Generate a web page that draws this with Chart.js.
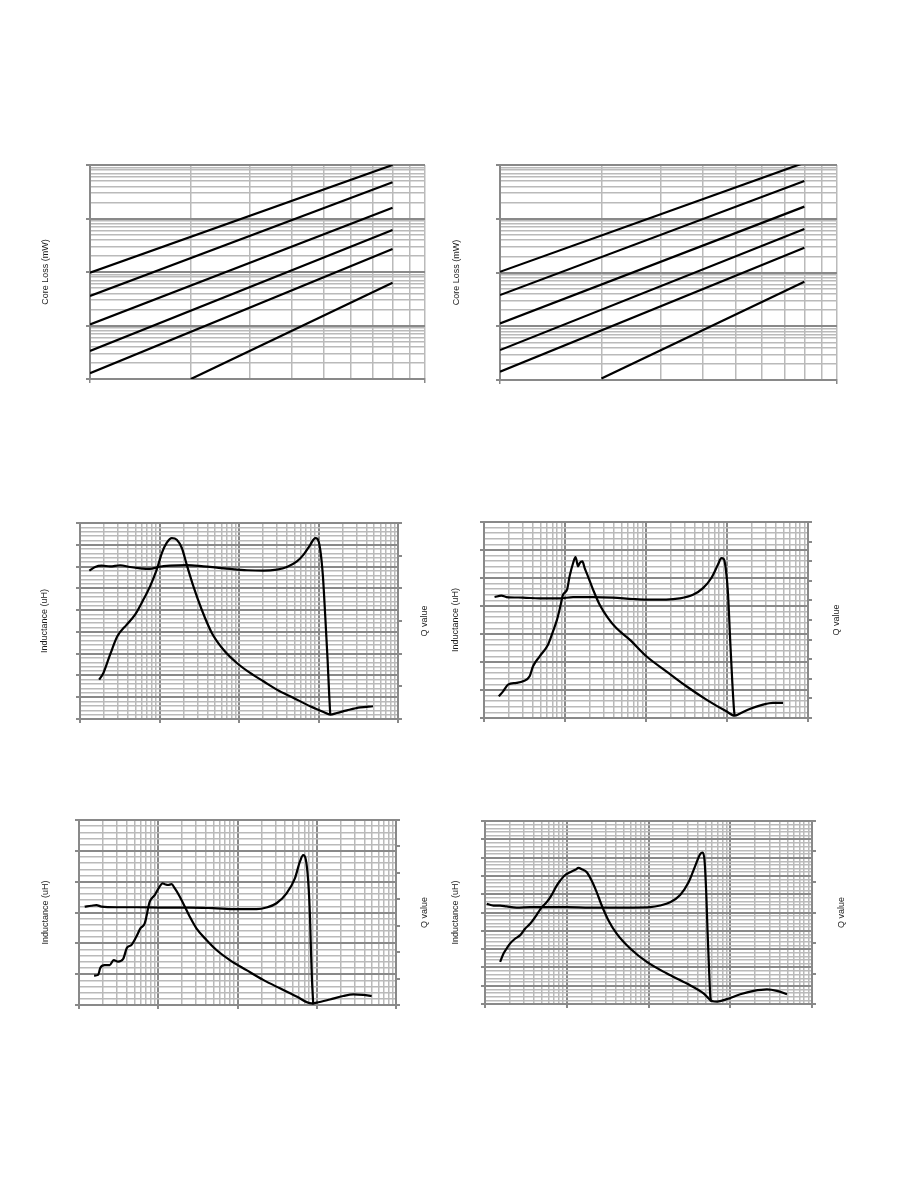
<!DOCTYPE html>
<html>
<head>
<meta charset="utf-8">
<script src="https://cdn.jsdelivr.net/npm/chart.js@4"></script>
<style>
  body { margin: 0; background: #fff; width: 918px; height: 1188px; position: relative; overflow: hidden; }
  .box { position: absolute; }
</style>
</head>
<body>
<script>
// ---- core loss charts (log-log), two points per straight line ----
const lossX = [10, 80];
const lossXLow = [20, 80];
const lossLeft = [[97, 10000], [35.6, 4750], [10.5, 1590], [3.34, 610], [1.28, 269], [1.0, 63]];
const lossRight = [[103, 11000], [38, 5040], [11.3, 1680], [3.6, 645], [1.43, 290], [1.07, 67.5]];

// ---- inductance / Q charts ----
const c3LFreq = [1.31,1.55,1.88,2.39,3.19,4.26,5.70,7.61,9.69,13.6,22.0,35.7,52.6,77.4,126,203,299,400,535,649,787,910,973,1052,1137,1216,1301,1366,1406];
const c3L = [68.1,69.8,70.4,70.1,70.6,69.8,69.2,68.9,69.8,70.4,70.7,70.1,69.5,68.9,68.3,68.1,68.6,69.8,72.4,75.5,80.0,83.1,82.7,77.8,65.5,47.1,27.2,10.4,2.0];
const c3QFreq = [1.74,1.97,2.39,2.95,3.87,4.93,6.27,7.61,9.23,10.7,12.3,14.3,16.5,19.1,22.0,26.7,34.0,45.5,63.8,94.0,138,203,299,486,787,1159,1406,1706,2280,3357,4842];
const c3Q = [24.1,28.2,39.4,50.6,57.8,63.9,73.1,81.2,91.4,101.6,107.8,110.8,109.8,104.7,94.5,81.2,66.9,52.7,42.4,34.3,28.2,23.1,18.0,12.9,7.8,4.3,2.7,3.7,5.3,7.1,7.8];

const c4LFreq = [1.35,1.64,1.89,3.03,4.87,8.60,12.6,22.2,39.1,69.1,101,178,260,380,505,641,774,851,910,963,1028,1099,1164,1220,1244];
const c4L = [43.2,43.7,43.2,43.0,42.7,42.7,43.2,43.2,43.0,42.5,42.3,42.3,42.7,44.0,46.4,50.0,54.8,57.1,56.8,53.6,44.6,26.8,12.5,3.0,0.8];
const c4QFreq = [1.52,1.72,1.98,2.51,3.03,3.66,4.03,4.87,6.17,7.11,7.97,8.76,9.45,10.6,11.4,12.6,13.5,14.5,15.2,16.4,17.5,19.2,22.2,26.8,34.0,43.0,62.9,101,178,315,556,982,1244,1433,1905,2782,3698,4911];
const c4Q = [11.1,13.6,17.0,17.9,18.7,21.3,26.4,31.5,37.4,44.2,50.2,57.0,62.9,65.5,72.3,79.1,82.1,77.4,79.1,79.9,76.5,72.3,65.5,57.8,51.0,45.9,40.0,31.5,23.8,16.2,9.4,3.4,1.2,2.2,4.6,6.8,7.7,7.7];

const c5LFreq = [1.18,1.43,1.66,1.92,2.96,5.30,11.5,25.0,49.3,97.1,174,232,311,416,530,613,675,730,781,820,844,869,903];
const c5L = [31.9,32.2,32.4,31.9,31.7,31.7,31.6,31.6,31.4,31.1,31.1,31.6,33.0,36.2,41.1,46.5,48.6,47.0,40.0,29.2,18.4,8.6,0.2];
const c5QFreq = [1.55,1.74,1.86,2.11,2.44,2.74,3.11,3.60,4.04,4.58,5.30,5.95,6.75,7.81,9.03,10.4,11.3,12.1,13.3,14.7,16.2,18.2,20.6,25.0,30.3,40.6,54.3,80.0,130,211,343,556,861,995,1466,2161,2891,3866,4930];
const c5Q = [11.1,11.4,14.1,15.1,15.1,17.0,16.4,17.4,21.7,22.7,25.9,29.0,30.9,39.1,41.6,44.8,46.0,45.7,45.4,45.7,44.1,41.6,38.5,33.4,29.0,24.6,20.8,17.0,13.2,9.5,6.3,3.2,0.6,0.9,2.1,3.4,4.0,3.8,3.4];

const c6LFreq = [1.05,1.27,1.53,1.84,2.44,3.56,5.69,10.0,19.3,37.3,65.5,105,139,184,244,309,373,429,459,485,508,528,548,569,580];
const c6L = [54.7,53.8,53.8,53.3,52.7,52.9,52.9,52.9,52.7,52.7,52.7,52.9,53.8,55.6,59.6,66.5,75.5,81.9,82.8,78.3,61.1,39.3,21.2,4.9,1.3];
const c6QFreq = [1.53,1.68,1.84,2.02,2.33,2.68,3.09,3.56,4.10,4.50,4.94,5.69,6.55,7.54,8.29,9.55,11.0,12.7,13.9,15.3,17.6,20.2,23.3,26.8,32.4,41.0,59.7,95.4,168,295,471,597,687,910,1325,1932,2812,3726,4943];
const c6Q = [13.8,16.5,18.2,19.8,21.4,22.5,24.7,26.3,28.5,30.1,31.7,33.4,35.8,38.8,40.4,42.3,43.2,44.0,44.6,44.2,43.2,40.4,36.6,32.3,27.4,23.0,18.2,13.8,10.0,6.7,3.5,1.0,0.8,1.6,3.2,4.3,4.8,4.3,3.2];

const GRID_MINOR = '#bababa';
const GRID_MAJOR = '#898989';
const PAD_L = 60, PAD_R = 50, PAD_T = 8, PAD_B = 10;

function isDecade(v) { const l = Math.log10(v); return Math.abs(l - Math.round(l)) < 1e-6; }
function logTicks(lo, hi) {
  const t = [];
  for (let d = lo; d < hi - 1e-9; d *= 10)
    for (let m = 1; m < 10; m++) t.push({ value: +(d * m).toPrecision(6) });
  t.push({ value: hi });
  return t;
}
function linTicks(min, max, step) {
  const t = [];
  const n = Math.round((max - min) / step);
  for (let i = 0; i <= n; i++) t.push({ value: +(min + i * step).toFixed(6) });
  return t;
}
function pts(xs, ys) { return xs.map((x, i) => ({ x: x, y: ys[i] })); }

const sideTitles = {
  id: 'sideTitles',
  afterDraw(chart, args, o) {
    const ctx = chart.ctx, a = chart.chartArea;
    ctx.save();
    ctx.font = '9px "Liberation Sans", Arial, sans-serif';
    ctx.fillStyle = '#1a1a1a';
    ctx.textAlign = 'center';
    ctx.textBaseline = 'middle';
    (o.items || []).forEach(function (it) {
      ctx.save();
      ctx.translate(it.x, (a.top + a.bottom) / 2);
      ctx.rotate(-Math.PI / 2);
      ctx.fillText(it.text, 0, 0);
      ctx.restore();
    });
    ctx.restore();
  }
};

function logAxis(lo, hi, pos, darkMajors, fixSize) {
  return {
    type: 'logarithmic', position: pos, min: lo, max: hi,
    afterBuildTicks: s => { s.ticks = logTicks(lo, hi); },
    afterFit: fixSize,
    ticks: { display: false },
    border: { display: true, color: GRID_MAJOR, width: 2 },
    grid: {
      color: c => (darkMajors && isDecade(c.tick.value)) ? GRID_MAJOR : GRID_MINOR,
      lineWidth: c => (darkMajors && isDecade(c.tick.value)) ? 2 : 1.5,
      tickColor: c => isDecade(c.tick.value) ? GRID_MAJOR : 'rgba(0,0,0,0)',
      tickLength: 4
    }
  };
}
function linAxis(min, max, minor, major, pos, onArea, fixSize) {
  const isMaj = v => Math.abs(v / major - Math.round(v / major)) < 1e-6;
  return {
    type: 'linear', position: pos, min: min, max: max,
    afterBuildTicks: s => { s.ticks = linTicks(min, max, minor); },
    afterFit: fixSize,
    ticks: { display: false },
    border: { display: true, color: GRID_MAJOR, width: 2 },
    grid: {
      drawOnChartArea: onArea,
      color: c => isMaj(c.tick.value) ? GRID_MAJOR : GRID_MINOR,
      lineWidth: c => isMaj(c.tick.value) ? 2 : 1.5,
      tickColor: c => isMaj(c.tick.value) ? GRID_MAJOR : 'rgba(0,0,0,0)',
      tickLength: 4
    }
  };
}

function makeChart(g, scales, datasets, titles, hasRight) {
  const div = document.createElement('div');
  div.className = 'box';
  const left = g.L - PAD_L, top = g.T - PAD_T;
  const w = g.R - g.L + PAD_L + PAD_R, h = g.B - g.T + PAD_T + PAD_B;
  div.style.left = left + 'px';
  div.style.top = top + 'px';
  div.style.width = w + 'px';
  div.style.height = h + 'px';
  const cv = document.createElement('canvas');
  cv.width = w; cv.height = h;
  div.appendChild(cv);
  document.body.appendChild(div);
  new Chart(cv, {
    type: 'line',
    data: { datasets: datasets },
    options: {
      responsive: false,
      animation: false,
      devicePixelRatio: 1,
      layout: { padding: { top: PAD_T, left: 0, bottom: 0, right: hasRight ? 0 : PAD_R } },
      elements: { point: { radius: 0 } },
      plugins: {
        legend: { display: false },
        tooltip: { enabled: false },
        sideTitles: { items: titles.map(t => ({ text: t.text, x: t.x - left })) }
      },
      scales: scales
    },
    plugins: [sideTitles]
  });
}

const fixX = s => { s.height = PAD_B; };
const fixL = s => { s.width = PAD_L; };
const fixR = s => { s.width = PAD_R; };

function lossSets(lines) {
  return lines.map((ys, i) => ({
    data: pts(i === 5 ? lossXLow : lossX, ys),
    borderColor: '#000', borderWidth: 2.2, tension: 0, yAxisID: 'y'
  }));
}
function lqSets(lf, l, qf, q) {
  return [
    { data: pts(lf, l), borderColor: '#000', borderWidth: 2.2, cubicInterpolationMode: 'monotone', yAxisID: 'y' },
    { data: pts(qf, q), borderColor: '#000', borderWidth: 2.2, cubicInterpolationMode: 'monotone', yAxisID: 'y2' }
  ];
}

// top row: core loss
makeChart({ L: 90, T: 165, R: 425, B: 379 },
  { x: logAxis(10, 100, 'bottom', false, fixX), y: logAxis(1, 10000, 'left', true, fixL) },
  lossSets(lossLeft), [{ text: 'Core Loss (mW)', x: 46 }], false);
makeChart({ L: 500, T: 165, R: 837, B: 380 },
  { x: logAxis(10, 100, 'bottom', false, fixX), y: logAxis(1, 10000, 'left', true, fixL) },
  lossSets(lossRight), [{ text: 'Core Loss (mW)', x: 457 }], false);

// middle row
makeChart({ L: 80, T: 523, R: 398, B: 719 },
  { x: logAxis(1, 10000, 'bottom', true, fixX), y: linAxis(0, 90, 2, 10, 'left', true, fixL), y2: linAxis(0, 120, 20, 20, 'right', false, fixR) },
  lqSets(c3LFreq, c3L, c3QFreq, c3Q),
  [{ text: 'Inductance (uH)', x: 45 }, { text: 'Q value', x: 425 }], true);
makeChart({ L: 484, T: 522, R: 808, B: 718 },
  { x: logAxis(1, 10000, 'bottom', true, fixX), y: linAxis(0, 70, 2, 10, 'left', true, fixL), y2: linAxis(0, 100, 10, 10, 'right', false, fixR) },
  lqSets(c4LFreq, c4L, c4QFreq, c4Q),
  [{ text: 'Inductance (uH)', x: 456 }, { text: 'Q value', x: 837 }], true);

// bottom row
makeChart({ L: 79, T: 820, R: 396, B: 1005 },
  { x: logAxis(1, 10000, 'bottom', true, fixX), y: linAxis(0, 60, 2, 10, 'left', true, fixL), y2: linAxis(0, 70, 10, 10, 'right', false, fixR) },
  lqSets(c5LFreq, c5L, c5QFreq, c5Q),
  [{ text: 'Inductance (uH)', x: 46 }, { text: 'Q value', x: 425 }], true);
makeChart({ L: 485, T: 821, R: 812, B: 1004 },
  { x: logAxis(1, 10000, 'bottom', true, fixX), y: linAxis(0, 100, 2, 10, 'left', true, fixL), y2: linAxis(0, 60, 10, 10, 'right', false, fixR) },
  lqSets(c6LFreq, c6L, c6QFreq, c6Q),
  [{ text: 'Inductance (uH)', x: 456 }, { text: 'Q value', x: 842 }], true);
</script>
</body>
</html>
